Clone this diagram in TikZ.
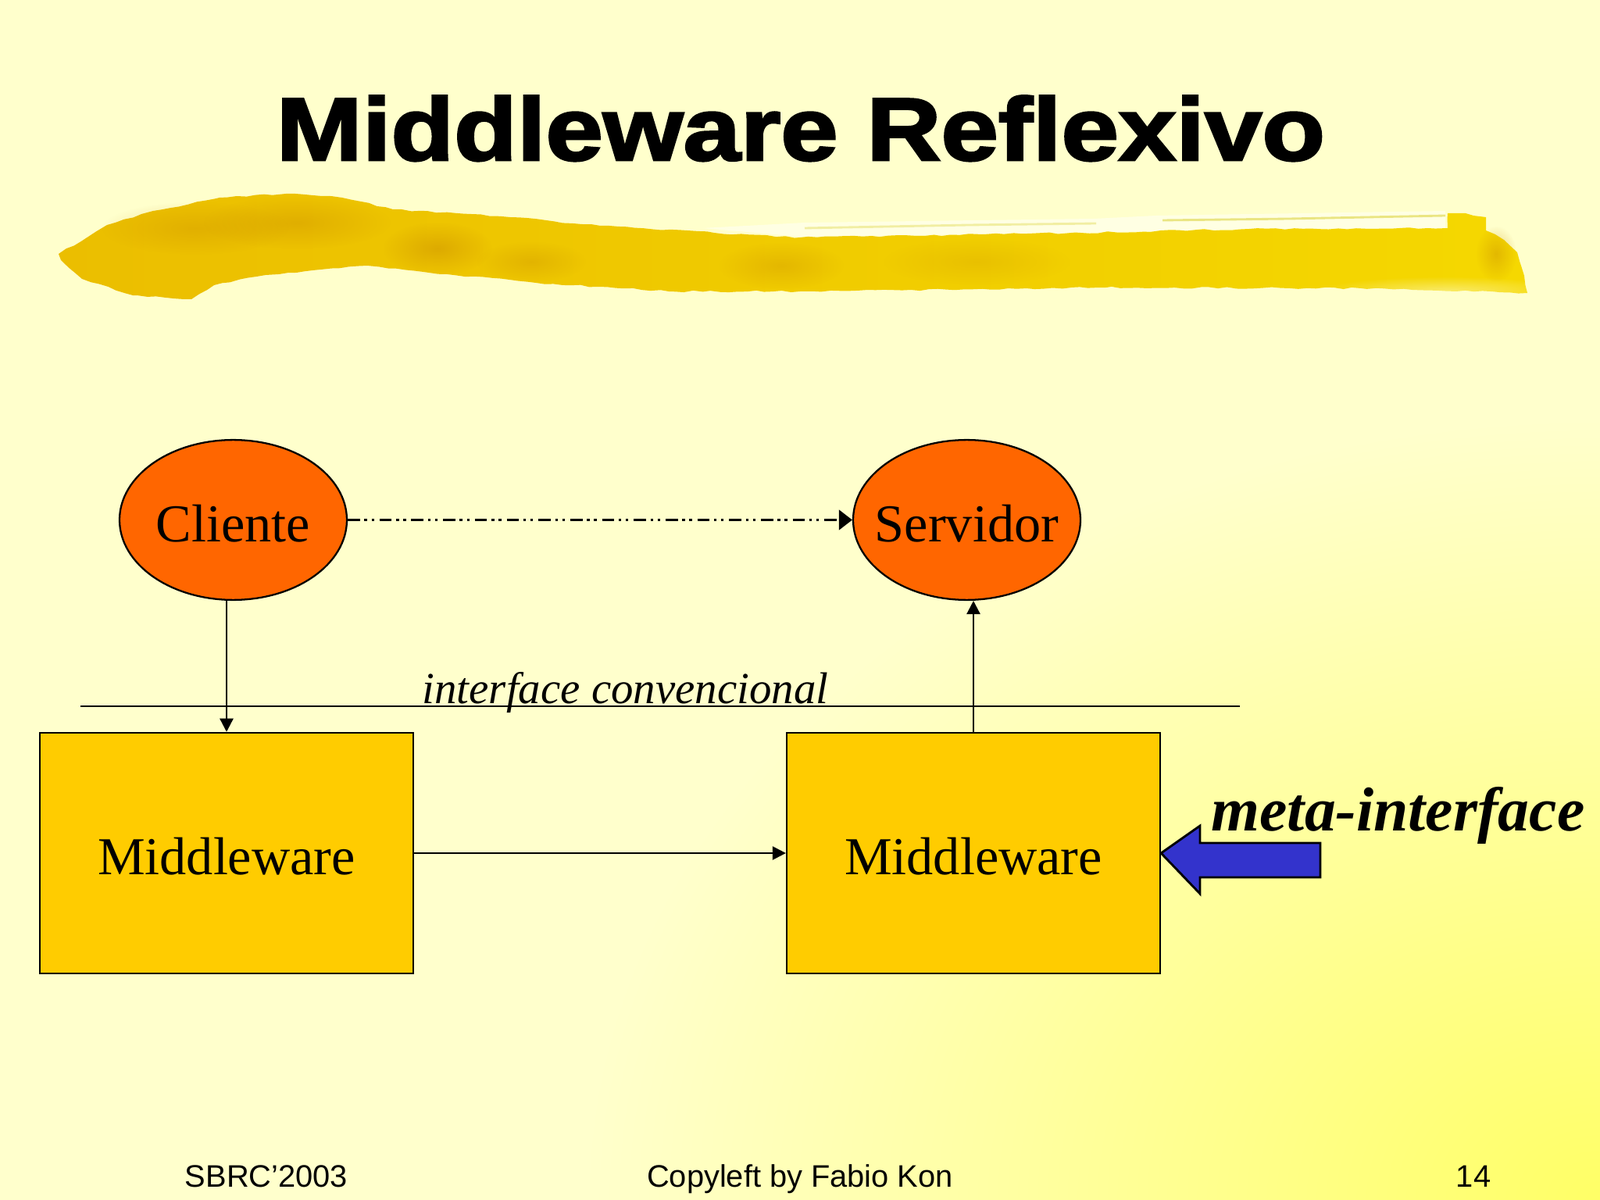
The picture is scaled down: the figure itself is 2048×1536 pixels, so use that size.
\documentclass[tikz,border=0pt]{standalone}
\usepackage{fontspec}
\usetikzlibrary{arrows.meta,fadings,shapes.geometric,decorations.pathmorphing}
\setmainfont{Liberation Serif}
\newfontfamily\footfont{Liberation Sans}
\newfontfamily\titlefont[FakeBold=2.6,FakeStretch=1.16]{Liberation Sans Bold}
\definecolor{slidebg}{HTML}{FFFFCC}
\definecolor{slidecorner}{HTML}{FFFF66}
\definecolor{nodeorange}{HTML}{FF6600}
\definecolor{boxamber}{HTML}{FFCC00}
\definecolor{metablue}{HTML}{3333CC}
\definecolor{brushleft}{HTML}{EBBE00}
\definecolor{brushright}{HTML}{F5D800}
\definecolor{brushdark}{HTML}{C88A00}
\tikzfading[name=softspot,inner color=transparent!0,outer color=transparent!100]
\tikzset{
	actor/.style={ellipse,draw=black,fill=nodeorange,line width=.8pt,minimum width=102.3pt,minimum height=72pt,inner xsep=-10pt,inner ysep=0pt,text height=20.4pt,text depth=.6pt,font=\fontsize{24}{28}\selectfont},
	layer/.style={rectangle,draw=black,fill=boxamber,line width=.85pt,minimum width=168pt,minimum height=108.3pt,inner sep=0pt,text height=20pt,text depth=.8pt,font=\fontsize{24}{28}\selectfont},
	flow/.style={line width=.85pt,-{Triangle[length=6pt,width=6pt]}},
	foot/.style={anchor=base,inner sep=0pt,font=\footfont\fontsize{14}{16}\selectfont},
	patch/.style={brushdark,path fading=softspot}
}
\begin{document}
\begin{tikzpicture}[x=.3515625pt,y=-.3515625pt]
	\useasboundingbox (0,0) rectangle (2048,1536);
	\fill[slidebg] (0,0) rectangle (2048,1536);
	\begin{scope}
		\clip (0,0) rectangle (2048,1536);
		\shade[inner color=slidecorner,outer color=slidebg] (2048,1536) ellipse (1300 and 1000);
	\end{scope}

	\fill[white,opacity=.45] (900,292) -- (1030,285) -- (1400,280) -- (1480,276) -- (1850,270) -- (1850,292) -- (1600,293) -- (1383,298) -- (1024,303) -- cycle;
	\draw[yellow!70!gray,line width=1pt,opacity=.6] (1488,282) -- (1650,280) -- (1850,276);
	\draw[yellow!70!gray,line width=1pt,opacity=.4] (1030,292) -- (1240,288) -- (1403,286);
	\path[left color=brushleft,right color=brushright,decorate,decoration={random steps,segment length=4pt,amplitude=.4pt}]
		(75,325) -- (137,288) -- (196,270) -- (281,253) -- (366,248) -- (438,253) -- (503,268) -- (653,278) -- (745,287) -- (914,298) -- (1024,304) -- (1383,298) -- (1599,293) -- (1853,292) -- (1853,273) -- (1876,273) -- (1902,278) -- (1902,295) -- (1925,307) -- (1942,323) -- (1951,353) -- (1955,375) -- (1742,369) -- (1416,368) -- (1024,373) -- (856,373) -- (686,362) -- (542,348) -- (470,340) -- (340,352) -- (274,365) -- (245,383) -- (170,378) -- (105,357) -- (78,333) -- cycle;
	\fill[patch,opacity=.3] (250,292) ellipse (120 and 34);
	\fill[patch,opacity=.35] (380,285) ellipse (120 and 34);
	\fill[patch,opacity=.45] (560,318) ellipse (70 and 34);
	\fill[patch,opacity=.3] (680,335) ellipse (70 and 26);
	\fill[patch,opacity=.3] (1000,340) ellipse (80 and 30);
	\fill[patch,opacity=.2] (1250,335) ellipse (120 and 30);
	\fill[patch,opacity=.4] (1915,325) ellipse (26 and 36);
	\fill[slidebg,opacity=.5,path fading=softspot] (1850,372) ellipse (160 and 18);

	\node[anchor=base,inner sep=0pt,font=\titlefont\fontsize{40}{44}\selectfont] (title) at (1025,205) {Middleware Reflexivo};

	\coordinate (lineleft) at (103,904);
	\coordinate (lineright) at (1587,904);
	\draw[line width=.85pt] (lineleft) -- (lineright);
	\node[anchor=base west,inner sep=0pt,font=\itshape\fontsize{20}{24}\selectfont] (convlabel) at (540,900) {interface convencional};

	\node[actor] (cliente) at (298.5,665.5) {Cliente};
	\node[actor] (servidor) at (1237.5,665.5) {Servidor};
	\node[layer] (mwa) at (290,1092) {Middleware};
	\node[layer] (mwb) at (1246,1092) {Middleware};

	\draw[line width=1pt,dash pattern=on 5.5pt off 2pt on 1.2pt off 2pt on 1.2pt off 2.4pt,-{Triangle[length=6pt,width=9pt]}] (cliente) -- (servidor);
	\draw[flow] (cliente.south -| mwa.north) -- (mwa.north);
	\draw[flow] (mwb.north) -- (servidor.south -| mwb.north);
	\draw[flow] (mwa) -- (mwb);

	\draw[fill=metablue,line width=1pt,line join=miter] (mwb.east) -- (1536,1057) -- (1536,1079) -- (1690,1079) -- (1690,1123) -- (1536,1123) -- (1536,1144) -- cycle;
	\node[anchor=base west,inner sep=0pt,font=\bfseries\itshape\fontsize{28}{32}\selectfont] (metalabel) at (1550,1063) {meta-interface};

	\node[foot] (conf) at (341,1519) {SBRC’2003};
	\node[foot] (copyleft) at (1024,1519) {Copyleft by Fabio Kon};
	\node[foot] (pagenum) at (1886,1519) {14};
\end{tikzpicture}
\end{document}
